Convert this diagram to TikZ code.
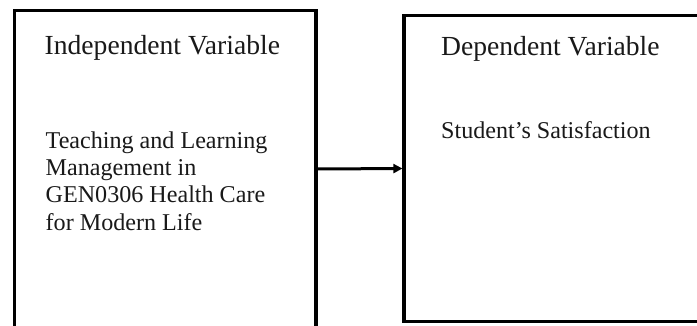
\documentclass[tikz,border=0pt]{standalone}
\usepackage{fontspec}
\setmainfont{Liberation Serif}
\usetikzlibrary{arrows.meta}
\begin{document}
\begin{tikzpicture}[x=1pt,y=-1pt,
  box/.style={draw=black,line width=3.3pt,rectangle,outer sep=0pt,inner sep=0pt,anchor=north west},
  head/.style={anchor=base west,inner sep=0pt,text=black!90,font=\fontsize{27.6}{32}\selectfont},
  body/.style={anchor=base west,inner sep=0pt,text=black!90,font=\fontsize{24.1}{27.3}\selectfont},
  link/.style={line width=3pt,-{Triangle[length=9pt,width=9pt]},shorten >=1.6pt}]
\useasboundingbox (0,0) rectangle (697,325);
\fill[white] (0,0) rectangle (697,325);
\node[box,minimum width=301.3pt,minimum height=317pt] (L) at (14.7,10.5) {};
\node[box,minimum width=320pt,minimum height=306.4pt] (R) at (404,15.3) {};
\draw[link] (L.east) -- (R.west);
\node[head] (lh) at (44.5,54) {Independent Variable};
\node[body] (lb) at (45.5,148.3) {\parbox[t]{260pt}{Teaching and Learning\\Management in\\GEN0306 Health Care\\for Modern Life}};
\node[head] (rh) at (441,55) {Dependent Variable};
\node[body] (rb) at (441,138) {Student’s Satisfaction};
\end{tikzpicture}
\end{document}
